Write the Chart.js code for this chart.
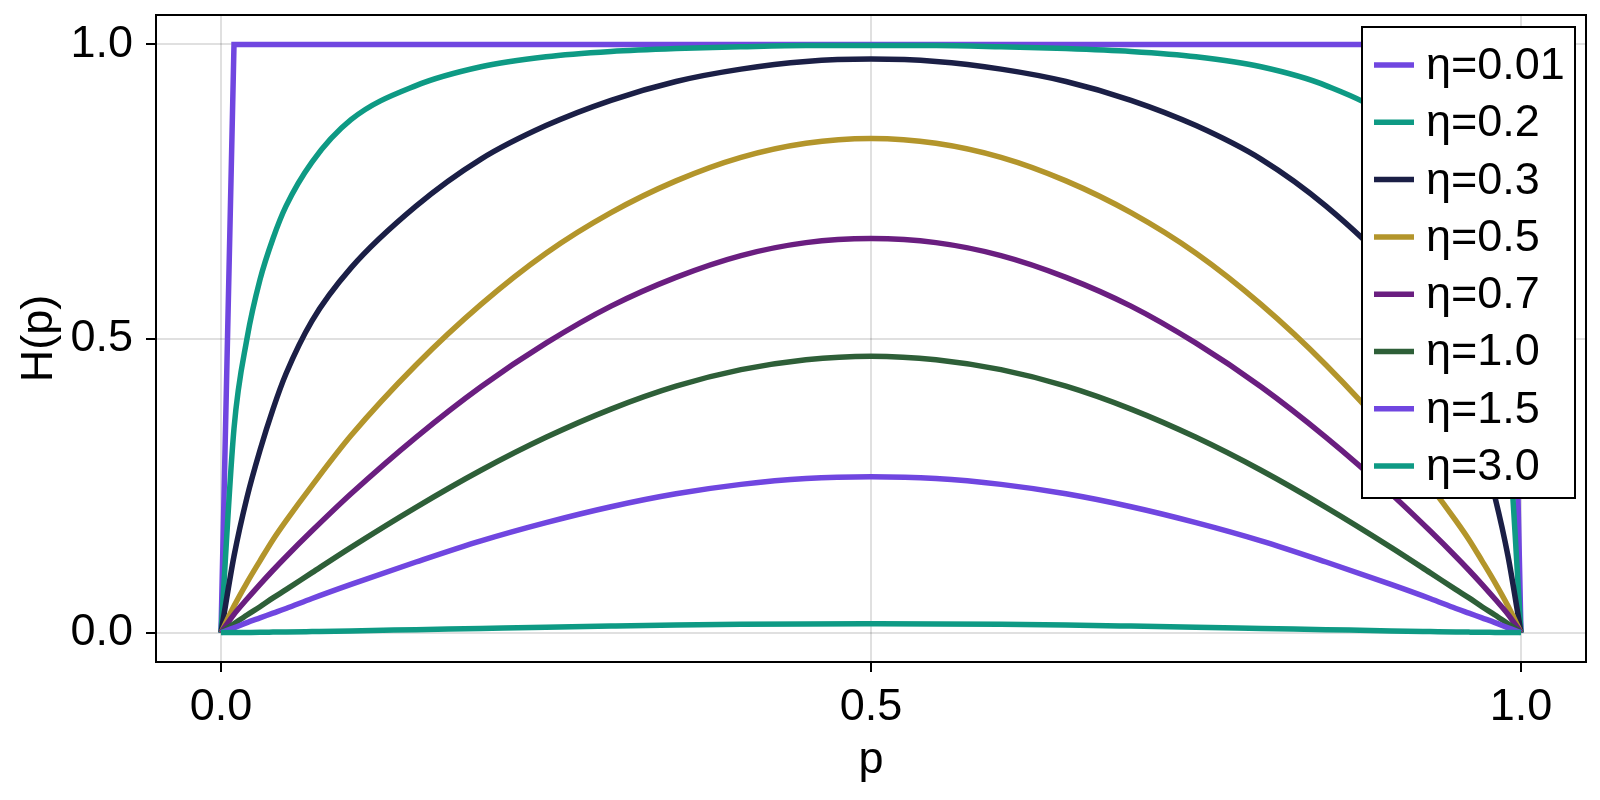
<!DOCTYPE html>
<html><head><meta charset="utf-8">
<script src="https://cdn.jsdelivr.net/npm/chart.js@4.4.1/dist/chart.umd.min.js"></script>
<style>html,body{margin:0;padding:0;background:#fff;}canvas{display:block;}</style>
</head><body>
<canvas id="c" width="1600" height="800"></canvas>
<script>
// ---- data ----
const P = [0,0.01,0.02,0.03,0.04,0.05,0.07,0.1,0.15,0.2,0.25,0.3,0.35,0.4,0.45,0.5,0.55,0.6,0.65,0.7,0.75,0.8,0.85,0.9,0.93,0.95,0.96,0.97,0.98,0.99,1];
const LABELS = ["η=0.01","η=0.2","η=0.3","η=0.5","η=0.7","η=1.0","η=1.5","η=3.0"];
const H_001 = [0,1,1,1,1,1,1,1,1,1,1,1,1,1,1,1,1,1,1,1,1,1,1,1,1,1,1,1,1,1,0];
const H_02  = [0,0.347,0.50,0.60,0.67,0.725,0.80,0.872,0.93,0.962,0.979,0.988,0.993,0.996,0.998,0.998,0.998,0.996,0.993,0.988,0.979,0.962,0.93,0.872,0.80,0.725,0.67,0.60,0.50,0.347,0];
const H_03  = [0,0.13,0.23,0.31,0.38,0.44,0.53,0.62,0.725,0.805,0.862,0.905,0.937,0.958,0.971,0.975,0.971,0.958,0.937,0.905,0.862,0.805,0.725,0.62,0.53,0.44,0.38,0.31,0.23,0.13,0];
const H_05  = [0,0.045,0.085,0.122,0.158,0.19,0.25,0.335,0.455,0.558,0.645,0.714,0.768,0.808,0.832,0.84,0.832,0.808,0.768,0.714,0.645,0.558,0.455,0.335,0.25,0.19,0.158,0.122,0.085,0.045,0];
const H_07  = [0,0.031,0.057,0.082,0.106,0.129,0.173,0.236,0.332,0.418,0.492,0.555,0.604,0.641,0.663,0.67,0.663,0.641,0.604,0.555,0.492,0.418,0.332,0.236,0.173,0.129,0.106,0.082,0.057,0.031,0];
const H_10  = [0,0.015,0.030,0.044,0.059,0.073,0.102,0.145,0.213,0.276,0.332,0.380,0.419,0.447,0.464,0.47,0.464,0.447,0.419,0.380,0.332,0.276,0.213,0.145,0.102,0.073,0.059,0.044,0.030,0.015,0];
const H_15  = [0,0.008,0.017,0.025,0.033,0.041,0.058,0.082,0.120,0.156,0.187,0.214,0.236,0.252,0.262,0.265,0.262,0.252,0.236,0.214,0.187,0.156,0.120,0.082,0.058,0.041,0.033,0.025,0.017,0.008,0];
const H_30  = [0,0.0001,0.0003,0.0005,0.0008,0.0011,0.0018,0.0029,0.005,0.0071,0.0092,0.0111,0.0128,0.014,0.0147,0.015,0.0147,0.014,0.0128,0.0111,0.0092,0.0071,0.005,0.0029,0.0018,0.0011,0.0008,0.0005,0.0003,0.0001,0];
const SERIES = [H_001,H_02,H_03,H_05,H_07,H_10,H_15,H_30];
const COLORS = ['#7046e0','#0e9a84','#1b1f46','#b3952b','#6a1e80','#2e5f38','#7046e0','#0e9a84'];
const XTICKS = [0,0.5,1];
const YTICKS = [0,0.5,1];

const FONT = "'Liberation Sans', Arial, Helvetica, sans-serif";
const FS = 45;
Chart.defaults.font.family = FONT;
Chart.defaults.color = '#000';

const datasets = SERIES.map((arr,i)=>({
  label: LABELS[i],
  data: P.map((p,j)=>({x:p, y:arr[j]})),
  borderColor: COLORS[i],
  backgroundColor: COLORS[i],
  borderWidth: 5.5,
  pointRadius: 0,
  fill: false,
  tension: i===0 ? 0 : 0.4,
  cubicInterpolationMode: i===0 ? 'default' : 'monotone',
  order: -i
}));

const insideLegend = {
  id:'insideLegend',
  afterDraw(chart){
    const {ctx, chartArea:a} = chart;
    const ds = chart.data.datasets;
    const w = 213, h = 471, rowH = 57.3;
    const right = a.right - 11, top = a.top + 12, left = right - w;
    ctx.save();
    ctx.fillStyle = '#fff';
    ctx.fillRect(left, top, w, h);
    ctx.lineWidth = 2; ctx.strokeStyle = '#000';
    ctx.strokeRect(left, top, w, h);
    ctx.font = FS + 'px ' + FONT;
    ctx.textBaseline = 'middle'; ctx.textAlign = 'left';
    ds.forEach((d,i)=>{
      const y = top + 38 + i*rowH;
      ctx.strokeStyle = d.borderColor; ctx.lineWidth = 5.5; ctx.lineCap = 'butt';
      ctx.beginPath(); ctx.moveTo(left+12, y); ctx.lineTo(left+52, y); ctx.stroke();
      ctx.fillStyle = '#000';
      ctx.fillText(d.label, left+64, y+1.5);
    });
    // frame
    ctx.lineWidth = 2; ctx.strokeStyle = '#000';
    ctx.strokeRect(a.left, a.top, a.right-a.left, a.bottom-a.top);
    ctx.restore();
  }
};

new Chart(document.getElementById('c'), {
  type:'line',
  data:{datasets},
  options:{
    responsive:false, animation:false, devicePixelRatio:1,
    layout:{padding:{left:0, top:15, right:14, bottom:0}},
    plugins:{legend:{display:false}, tooltip:{enabled:false}},
    scales:{
      x:{
        type:'linear', min:-0.05, max:1.05,
        afterBuildTicks: s => { s.ticks = XTICKS.map(v=>({value:v})); },
        afterFit: s => { s.height = 138; s.paddingLeft = 0; s.paddingRight = 0; },
        ticks:{callback:v=>Number(v).toFixed(1), font:{size:FS}, color:'#000', padding:8.5, maxRotation:0, autoSkip:false},
        grid:{color:'rgba(0,0,0,0.12)', lineWidth:2, drawTicks:true, tickLength:10, tickColor:'#000', tickWidth:2},
        border:{display:false},
        title:{display:true, text:'p', font:{size:FS}, color:'#000', padding:{top:0, bottom:12}}
      },
      y:{
        type:'linear', min:-0.05, max:1.05,
        afterBuildTicks: s => { s.ticks = YTICKS.map(v=>({value:v})); },
        afterFit: s => { s.width = 156; s.paddingTop = 0; s.paddingBottom = 0; },
        ticks:{callback:v=>Number(v).toFixed(1), font:{size:FS}, color:'#000', padding:13, autoSkip:false},
        grid:{color:'rgba(0,0,0,0.12)', lineWidth:2, drawTicks:true, tickLength:10, tickColor:'#000', tickWidth:2},
        border:{display:false},
        title:{display:true, text:'H(p)', font:{size:FS}, color:'#000', padding:{top:13, bottom:0}}
      }
    }
  },
  plugins:[insideLegend]
});
</script></body></html>
